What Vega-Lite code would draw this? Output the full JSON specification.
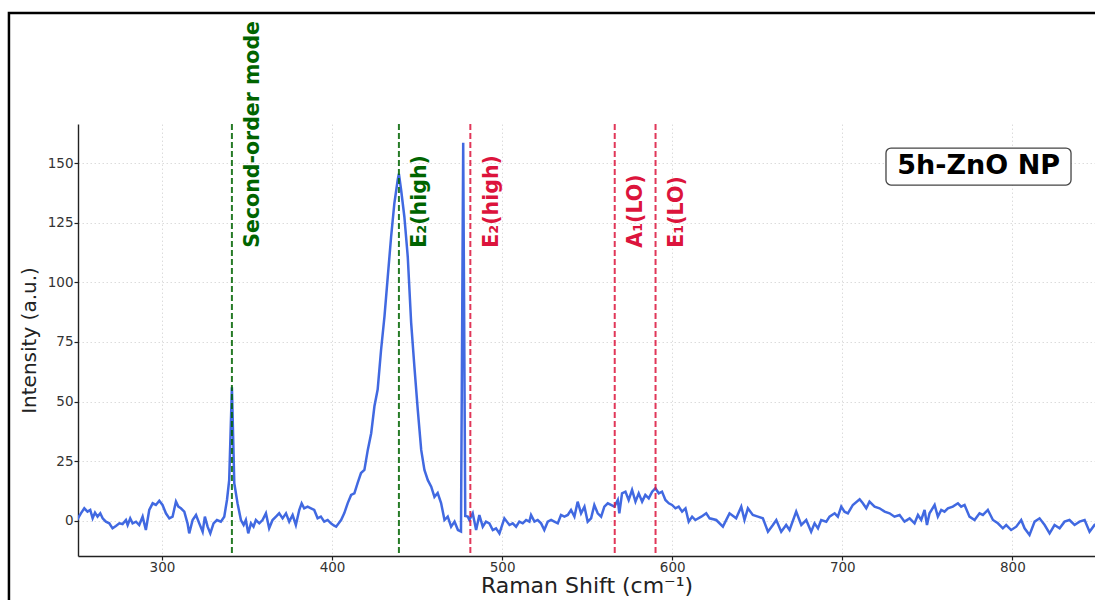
{
  "$schema": "https://vega.github.io/schema/vega-lite/v6.json",
  "width": 1017,
  "height": 432,
  "autosize": {"type": "none"},
  "padding": {"left": 78, "top": 124, "right": 0, "bottom": 44},
  "background": "white",
  "config": {
    "font": "DejaVu Sans",
    "view": {"stroke": null},
    "axis": {"grid": true, "gridColor": "#dcdcdc", "gridDash": [1.5, 2.5], "gridWidth": 1,
      "domainColor": "#222222", "domainWidth": 1.4, "tickColor": "#222222", "tickSize": 4, "tickWidth": 1.2,
      "labelFont": "DejaVu Sans", "labelFontSize": 13.5, "labelColor": "#333333", "labelPadding": 1,
      "titleFont": "DejaVu Sans", "titleFontWeight": "normal", "titleColor": "#222222"},
    "axisX": {"titleFontSize": 22, "titlePadding": 2, "labelPadding": 0},
    "axisY": {"titleFontSize": 20, "titlePadding": 8}
  },
  "datasets": {
    "spectrum": [
      {"shift":250,"intensity":0.3},{"shift":252.3,"intensity":3.1},{"shift":254.3,"intensity":5.2},{"shift":256.2,"intensity":3.8},{"shift":257.8,"intensity":4.5},{"shift":259.2,"intensity":1.0},{"shift":260.6,"intensity":3.4},{"shift":262.1,"intensity":1.7},{"shift":263.7,"intensity":3.1},{"shift":265.1,"intensity":1.0},{"shift":267,"intensity":-0.4},{"shift":269,"intensity":-1.1},{"shift":270.9,"intensity":-3.2},{"shift":272.9,"intensity":-2.2},{"shift":274.9,"intensity":-1.1},{"shift":276.8,"intensity":-1.4},{"shift":278.8,"intensity":0.3},{"shift":279.8,"intensity":-1.8},{"shift":281.3,"intensity":1.0},{"shift":282.7,"intensity":-1.1},{"shift":284.7,"intensity":-0.4},{"shift":286.6,"intensity":-1.8},{"shift":288.6,"intensity":1.7},{"shift":290.5,"intensity":-3.9},{"shift":292.5,"intensity":4.5},{"shift":294.5,"intensity":7.3},{"shift":296.4,"intensity":6.6},{"shift":298.4,"intensity":8.4},{"shift":300.3,"intensity":6.6},{"shift":302.3,"intensity":3.1},{"shift":304.3,"intensity":1.0},{"shift":306.2,"intensity":1.7},{"shift":308.2,"intensity":8.0},{"shift":309.6,"intensity":5.9},{"shift":311.1,"intensity":5.2},{"shift":313.1,"intensity":3.8},{"shift":315,"intensity":-1.1},{"shift":316,"intensity":-5.3},{"shift":318,"intensity":0.3},{"shift":320,"intensity":2.4},{"shift":321.9,"intensity":-1.1},{"shift":323.9,"intensity":-4.6},{"shift":325.2,"intensity":1.7},{"shift":326.8,"intensity":-2.5},{"shift":328.4,"intensity":-5.3},{"shift":330.3,"intensity":-1.1},{"shift":332.3,"intensity":0.3},{"shift":334.6,"intensity":-0.4},{"shift":336.6,"intensity":1.7},{"shift":338.2,"intensity":8.7},{"shift":339.5,"intensity":17},{"shift":341.1,"intensity":56},{"shift":342.5,"intensity":15.7},{"shift":344.4,"intensity":7.3},{"shift":346.4,"intensity":0.3},{"shift":348,"intensity":-1.8},{"shift":349.3,"intensity":0.3},{"shift":350.7,"intensity":-5.3},{"shift":352.3,"intensity":-1.1},{"shift":353.8,"intensity":-2.5},{"shift":355.2,"intensity":0.3},{"shift":357.2,"intensity":-1.1},{"shift":359.1,"intensity":0.3},{"shift":361.1,"intensity":3.1},{"shift":363,"intensity":-3.2},{"shift":365,"intensity":0.3},{"shift":367,"intensity":1.7},{"shift":368.9,"intensity":3.1},{"shift":370.9,"intensity":1.0},{"shift":372.9,"intensity":3.1},{"shift":374.8,"intensity":-0.4},{"shift":376.8,"intensity":2.4},{"shift":378.7,"intensity":-1.8},{"shift":380.7,"intensity":4.5},{"shift":382.1,"intensity":7.3},{"shift":383.6,"intensity":5.2},{"shift":385.6,"intensity":5.9},{"shift":387.6,"intensity":5.2},{"shift":389.5,"intensity":4.5},{"shift":391.5,"intensity":1.0},{"shift":393.4,"intensity":1.7},{"shift":395.4,"intensity":-0.4},{"shift":397.4,"intensity":0.3},{"shift":399.3,"intensity":-1.1},{"shift":401,"intensity":-2},{"shift":402.4,"intensity":-2.5},{"shift":404,"intensity":-1},{"shift":405.3,"intensity":0.3},{"shift":407.2,"intensity":3.2},{"shift":409.2,"intensity":7.4},{"shift":411.2,"intensity":10.8},{"shift":413.1,"intensity":11.5},{"shift":415,"intensity":15.8},{"shift":417,"intensity":20},{"shift":419,"intensity":21.3},{"shift":421,"intensity":29.7},{"shift":423,"intensity":36.7},{"shift":424.9,"intensity":48},{"shift":426.8,"intensity":55},{"shift":428.8,"intensity":71.6},{"shift":430.8,"intensity":85.6},{"shift":432.7,"intensity":102},{"shift":434.7,"intensity":119},{"shift":436.6,"intensity":133},{"shift":438.6,"intensity":143},{"shift":439.3,"intensity":145.5},{"shift":440.6,"intensity":138.7},{"shift":442.5,"intensity":127.5},{"shift":444.5,"intensity":110.7},{"shift":446.5,"intensity":83},{"shift":448.4,"intensity":64.6},{"shift":450.4,"intensity":46.4},{"shift":452.4,"intensity":29.7},{"shift":454.3,"intensity":21.3},{"shift":456.3,"intensity":17},{"shift":458.3,"intensity":14.3},{"shift":460.2,"intensity":10},{"shift":462.1,"intensity":11.6},{"shift":464.1,"intensity":7.4},{"shift":466.1,"intensity":0.3},{"shift":468,"intensity":1.7},{"shift":470,"intensity":-2.5},{"shift":472,"intensity":-0.4},{"shift":474,"intensity":-3.9},{"shift":475.8,"intensity":-4.5},{"shift":477.1,"intensity":158.5},{"shift":478.3,"intensity":2},{"shift":479.8,"intensity":1.7},{"shift":480.7,"intensity":0.3},{"shift":482.7,"intensity":3.1},{"shift":484.7,"intensity":-3.9},{"shift":486.6,"intensity":2.4},{"shift":488.6,"intensity":-2.5},{"shift":490.5,"intensity":-0.4},{"shift":492.5,"intensity":-1.1},{"shift":494.5,"intensity":-3.9},{"shift":496.4,"intensity":-3.2},{"shift":498.4,"intensity":-5.3},{"shift":501.3,"intensity":1.0},{"shift":504.3,"intensity":-1.8},{"shift":506.2,"intensity":-1.1},{"shift":508.2,"intensity":-2.5},{"shift":510.1,"intensity":-0.4},{"shift":512.1,"intensity":-1.1},{"shift":514.1,"intensity":0.3},{"shift":516,"intensity":-0.4},{"shift":517,"intensity":2.4},{"shift":519,"intensity":-0.4},{"shift":520.9,"intensity":0.3},{"shift":522.9,"intensity":-1.1},{"shift":524.8,"intensity":-3.9},{"shift":526.8,"intensity":-0.4},{"shift":528.8,"intensity":0.3},{"shift":530.7,"intensity":-0.4},{"shift":532.7,"intensity":-1.1},{"shift":534.6,"intensity":2.4},{"shift":536.6,"intensity":1.7},{"shift":538.6,"intensity":2.4},{"shift":540.5,"intensity":4.5},{"shift":542.5,"intensity":1.7},{"shift":544.4,"intensity":8.0},{"shift":546.4,"intensity":3.1},{"shift":548.4,"intensity":5.9},{"shift":550.3,"intensity":-0.4},{"shift":552.3,"intensity":1.0},{"shift":554.2,"intensity":6.6},{"shift":556.2,"intensity":3.1},{"shift":558.2,"intensity":1.7},{"shift":560.1,"intensity":5.9},{"shift":562.1,"intensity":7.3},{"shift":564,"intensity":6.6},{"shift":566,"intensity":5.9},{"shift":568,"intensity":8.7},{"shift":568.9,"intensity":3.1},{"shift":570.5,"intensity":11.5},{"shift":572.5,"intensity":12.2},{"shift":574.4,"intensity":8.7},{"shift":576.4,"intensity":12.9},{"shift":578.4,"intensity":8.0},{"shift":580.3,"intensity":11.5},{"shift":582.3,"intensity":8.0},{"shift":584.2,"intensity":10.8},{"shift":586.2,"intensity":9.4},{"shift":588.2,"intensity":12.2},{"shift":590.1,"intensity":13.6},{"shift":592.1,"intensity":11.5},{"shift":594,"intensity":12.2},{"shift":596,"intensity":8.7},{"shift":598,"intensity":7.3},{"shift":599.9,"intensity":6.6},{"shift":601.9,"intensity":5.2},{"shift":603.8,"intensity":5.9},{"shift":605.8,"intensity":3.8},{"shift":607.8,"intensity":5.2},{"shift":609.7,"intensity":-0.4},{"shift":611.7,"intensity":1.7},{"shift":613.6,"intensity":0.3},{"shift":617.1,"intensity":1.7},{"shift":620,"intensity":3.1},{"shift":622,"intensity":1.0},{"shift":625.9,"intensity":0.3},{"shift":629.8,"intensity":-2.5},{"shift":633.7,"intensity":3.1},{"shift":637.6,"intensity":1.0},{"shift":640.6,"intensity":5.9},{"shift":642.5,"intensity":0.3},{"shift":644.5,"intensity":5.2},{"shift":647.4,"intensity":2.4},{"shift":650.4,"intensity":1.7},{"shift":653.3,"intensity":1.0},{"shift":656.3,"intensity":-4.6},{"shift":659.2,"intensity":-1.8},{"shift":661.2,"intensity":0.3},{"shift":664.1,"intensity":-4.6},{"shift":667,"intensity":-1.8},{"shift":669,"intensity":-3.9},{"shift":672.9,"intensity":3.8},{"shift":675.9,"intensity":-1.8},{"shift":678.8,"intensity":0.3},{"shift":681.7,"intensity":-4.6},{"shift":683.7,"intensity":-1.1},{"shift":685.7,"intensity":-3.2},{"shift":687.6,"intensity":0.3},{"shift":690.6,"intensity":-0.4},{"shift":692.5,"intensity":1.7},{"shift":695.5,"intensity":3.1},{"shift":697.4,"intensity":1.7},{"shift":699.4,"intensity":5.9},{"shift":701.3,"intensity":3.8},{"shift":703.3,"intensity":3.1},{"shift":706.2,"intensity":6.6},{"shift":710.2,"intensity":9.0},{"shift":712.1,"intensity":7.3},{"shift":714.1,"intensity":5.2},{"shift":716,"intensity":8.0},{"shift":719,"intensity":5.9},{"shift":721.9,"intensity":5.2},{"shift":724.9,"intensity":3.8},{"shift":727.8,"intensity":3.1},{"shift":730.7,"intensity":1.7},{"shift":733.7,"intensity":2.4},{"shift":736.6,"intensity":-0.4},{"shift":739.6,"intensity":1.0},{"shift":742.5,"intensity":-1.1},{"shift":744.5,"intensity":2.4},{"shift":746.4,"intensity":0.3},{"shift":748.4,"intensity":4.5},{"shift":749.8,"intensity":-1.8},{"shift":751.3,"intensity":3.1},{"shift":754.3,"intensity":6.6},{"shift":756.2,"intensity":1.7},{"shift":758.2,"intensity":4.5},{"shift":760.1,"intensity":3.8},{"shift":762.1,"intensity":5.2},{"shift":765,"intensity":5.9},{"shift":768,"intensity":7.3},{"shift":769.9,"intensity":5.9},{"shift":771.9,"intensity":6.6},{"shift":774.8,"intensity":1.7},{"shift":777.8,"intensity":0.3},{"shift":780.7,"intensity":3.1},{"shift":782.7,"intensity":2.4},{"shift":785.6,"intensity":4.5},{"shift":788.6,"intensity":0.3},{"shift":791.5,"intensity":-1.1},{"shift":794.4,"intensity":-3.2},{"shift":796.4,"intensity":-1.8},{"shift":799.3,"intensity":-3.9},{"shift":802.3,"intensity":-2.5},{"shift":805.2,"intensity":0.3},{"shift":807.2,"intensity":-3.2},{"shift":810.1,"intensity":-6.0},{"shift":813.1,"intensity":-0.4},{"shift":816,"intensity":1.0},{"shift":819,"intensity":-1.8},{"shift":821.9,"intensity":-5.3},{"shift":824.8,"intensity":-1.8},{"shift":827.8,"intensity":-3.2},{"shift":830.7,"intensity":-0.4},{"shift":833.6,"intensity":0.3},{"shift":836.6,"intensity":-1.8},{"shift":839.5,"intensity":-0.4},{"shift":842.5,"intensity":0.3},{"shift":845.4,"intensity":-4.6},{"shift":848.3,"intensity":-1.8},{"shift":850,"intensity":-1}
    ],
    "modes": [
      {"pos": 341.1, "label": "Second-order mode", "group": "observed"},
      {"pos": 439.3, "label": "E₂(high)", "group": "observed"},
      {"pos": 481.3, "label": "E₂(high)", "group": "reference"},
      {"pos": 566.2, "label": "A₁(LO)", "group": "reference"},
      {"pos": 590.2, "label": "E₁(LO)", "group": "reference"}
    ],
    "tag": [{"label": "5h-ZnO NP"}]
  },
  "layer": [
    {
      "data": {"name": "tag"},
      "mark": {"type": "rect", "fill": null, "fillOpacity": 0, "stroke": "#000000", "strokeWidth": 2.5, "clip": false},
      "encoding": {
        "x": {"datum": 210.0, "type": "quantitative", "title": "Raman Shift (cm⁻¹)", "scale": {"domain": [250.6, 848.6], "nice": false, "zero": false}, "axis": {"values": [300, 400, 500, 600, 700, 800]}},
        "x2": {"datum": 900},
        "y": {"datum": 213.0, "type": "quantitative", "title": "Intensity (a.u.)", "scale": {"domain": [-14.8, 166.4], "nice": false, "zero": false}, "axis": {"values": [0, 25, 50, 75, 100, 125, 150]}},
        "y2": {"datum": -40}
      }
    },
    {
      "data": {"name": "spectrum"},
      "mark": {"type": "line", "color": "#4169E1", "strokeWidth": 2.5, "clip": true},
      "encoding": {
        "x": {"field": "shift", "type": "quantitative", "title": "Raman Shift (cm⁻¹)", "scale": {"domain": [250.6, 848.6], "nice": false, "zero": false}, "axis": {"values": [300, 400, 500, 600, 700, 800]}},
        "y": {"field": "intensity", "type": "quantitative", "title": "Intensity (a.u.)", "scale": {"domain": [-14.8, 166.4], "nice": false, "zero": false}, "axis": {"values": [0, 25, 50, 75, 100, 125, 150]}}
      }
    },
    {
      "data": {"name": "modes"},
      "mark": {"type": "rule", "strokeWidth": 2, "strokeDash": [6, 3], "opacity": 0.85},
      "encoding": {
        "x": {"field": "pos", "type": "quantitative", "title": "Raman Shift (cm⁻¹)", "scale": {"domain": [250.6, 848.6], "nice": false, "zero": false}, "axis": {"values": [300, 400, 500, 600, 700, 800]}},
        "color": {"field": "group", "type": "nominal", "scale": {"domain": ["observed", "reference"], "range": ["#006400", "#DC143C"]}, "legend": null}
      }
    },
    {
      "data": {"name": "modes"},
      "mark": {"type": "text", "angle": 270, "align": "left", "baseline": "middle", "dy": 21.5, "fontSize": 20.5, "fontWeight": "bold", "font": "DejaVu Sans", "clip": false},
      "encoding": {
        "x": {"field": "pos", "type": "quantitative", "title": "Raman Shift (cm⁻¹)", "scale": {"domain": [250.6, 848.6], "nice": false, "zero": false}, "axis": {"values": [300, 400, 500, 600, 700, 800]}},
        "y": {"datum": 114.5, "type": "quantitative", "title": "Intensity (a.u.)", "scale": {"domain": [-14.8, 166.4], "nice": false, "zero": false}, "axis": {"values": [0, 25, 50, 75, 100, 125, 150]}},
        "text": {"field": "label"},
        "color": {"field": "group", "type": "nominal", "scale": {"domain": ["observed", "reference"], "range": ["#006400", "#DC143C"]}, "legend": null}
      }
    },
    {
      "data": {"name": "tag"},
      "mark": {"type": "rect", "fill": "white", "stroke": "#444444", "strokeWidth": 1.3, "cornerRadius": 5, "clip": false},
      "encoding": {
        "x": {"datum": 725.7, "type": "quantitative", "title": "Raman Shift (cm⁻¹)", "scale": {"domain": [250.6, 848.6], "nice": false, "zero": false}, "axis": {"values": [300, 400, 500, 600, 700, 800]}},
        "x2": {"datum": 834.5},
        "y": {"datum": 156.3, "type": "quantitative", "title": "Intensity (a.u.)", "scale": {"domain": [-14.8, 166.4], "nice": false, "zero": false}, "axis": {"values": [0, 25, 50, 75, 100, 125, 150]}},
        "y2": {"datum": 140.8}
      }
    },
    {
      "data": {"name": "tag"},
      "mark": {"type": "text", "align": "center", "baseline": "alphabetic", "fontSize": 27, "fontWeight": "bold", "font": "DejaVu Sans", "color": "#000000"},
      "encoding": {
        "x": {"datum": 780.2, "type": "quantitative", "title": "Raman Shift (cm⁻¹)", "scale": {"domain": [250.6, 848.6], "nice": false, "zero": false}, "axis": {"values": [300, 400, 500, 600, 700, 800]}},
        "y": {"datum": 145.4, "type": "quantitative", "title": "Intensity (a.u.)", "scale": {"domain": [-14.8, 166.4], "nice": false, "zero": false}, "axis": {"values": [0, 25, 50, 75, 100, 125, 150]}},
        "text": {"field": "label"}
      }
    }
  ]
}
